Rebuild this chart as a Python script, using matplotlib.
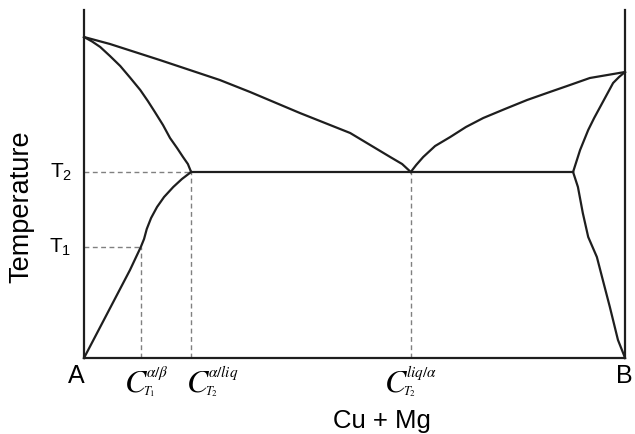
import matplotlib
matplotlib.use("Agg")
import matplotlib.pyplot as plt
from matplotlib.transforms import offset_copy

plt.rcParams['font.family'] = ['Liberation Sans', 'DejaVu Sans']

# composition (0 = A, 100 = B) and temperature (arbitrary units)
liq_left_x = [0, 4.8, 14.0, 25.1, 30.7, 39.9, 49.2, 56.6, 58.8, 60.4]
liq_left_t = [321, 314, 298, 278, 266, 245, 225, 201, 194, 186]
liq_right_x = [60.4, 61.4, 62.7, 64.9, 67.7, 70.6, 73.8, 77.8, 81.9, 86.1, 89.3, 93.5, 100]
liq_right_t = [186, 193, 201, 212, 221, 231, 240, 249, 258, 266, 272, 280, 286]
sol_left_x = [0, 1.5, 3.0, 4.8, 6.7, 8.5, 10.4, 11.8, 13.1, 14.6, 15.9, 17.2, 18.3, 19.2, 19.8]
sol_left_t = [321, 316.5, 311, 302, 292, 280.5, 268, 257, 246, 233, 220, 210, 201, 194, 186]
solv_left_x = [19.8, 18.1, 16.5, 14.8, 13.5, 12.4, 11.6, 11.1, 10.5, 8.5, 0]
solv_left_t = [186, 179, 171, 161, 151, 140, 129, 119, 111, 88, 0]
sol_right_x = [100, 98.9, 97.8, 96.5, 95.4, 94.3, 93.2, 91.7, 90.4]
sol_right_t = [286, 281, 275, 262, 251, 240, 228, 208, 186]
solv_right_x = [90.4, 91.3, 92.2, 93.2, 94.8, 95.9, 97.2, 98.7, 99.8, 100]
solv_right_t = [186, 171, 145, 121, 101, 78, 51, 18, 3, 0]

T1 = 111
T2 = 186
c_ab_T1 = 10.5     # alpha/beta at T1
c_aliq_T2 = 19.8   # alpha/liq at T2
c_liqa_T2 = 60.4   # liq/alpha at T2 (eutectic)
c_b_T2 = 90.4

fig = plt.figure(figsize=(6.35, 4.34), dpi=100)
ax = fig.add_axes([84 / 635, 76 / 434, 541 / 635, 348 / 434])
ax.set_xlim(0, 100)
ax.set_ylim(0, 348)
ax.set_xticks([])
ax.set_yticks([])
ax.spines['top'].set_visible(False)
for s in ['left', 'right', 'bottom']:
    ax.spines[s].set_linewidth(1.6)
    ax.spines[s].set_color('#1e1e1e')

# guide lines
dash = dict(color='#808080', lw=1.0, ls=(0, (3.5, 2.5)), clip_on=False)
ax.plot([0, c_ab_T1], [T1, T1], **dash)
ax.plot([0, c_aliq_T2], [T2, T2], **dash)
ax.plot([c_ab_T1, c_ab_T1], [0, T1], **dash)
ax.plot([c_aliq_T2, c_aliq_T2], [0, T2], **dash)
ax.plot([c_liqa_T2, c_liqa_T2], [0, T2], **dash)

# phase boundaries
line = dict(color='#1e1e1e', lw=1.6, clip_on=False, solid_joinstyle='round')
ax.plot(liq_left_x, liq_left_t, **line)
ax.plot(liq_right_x, liq_right_t, **line)
ax.plot(sol_left_x, sol_left_t, **line)
ax.plot(solv_left_x, solv_left_t, **line)
ax.plot(sol_right_x, sol_right_t, **line)
ax.plot(solv_right_x, solv_right_t, **line)
ax.plot([c_aliq_T2, c_b_T2], [T2, T2], **line)

# labels
ax.text(-1.5, -18, 'A', fontsize=18, ha='center', va='center')
ax.text(99.8, -18, 'B', fontsize=18, ha='center', va='center')
ax.text(55.1, -70, 'Cu + Mg', fontsize=18.5, ha='center', va='baseline')
ax.text(-11.5, 151, 'Temperature', fontsize=19.5, rotation=90,
        ha='center', va='center')
ax.text(-2.2, T2, r'T$_\mathregular{2}$', fontsize=15, ha='right', va='center')
ax.text(-2.4, T1, r'T$_\mathregular{1}$', fontsize=15, ha='right', va='center')

serif = dict(family='STIXGeneral', style='italic', va='baseline', ha='left')
c_labels = [(7.6, r'$\alpha/\beta$', '1'),
            (19.0, r'$\alpha/liq$', '2'),
            (55.6, r'$liq/\alpha$', '2')]
for x0, sup, sub in c_labels:
    ax.text(x0, -34, 'C', fontsize=23, **serif)
    ax.text(x0, -34, sup, fontsize=11, math_fontfamily='stix',
            transform=offset_copy(ax.transData, fig, x=21, y=15, units='dots'),
            **serif)
    ax.text(x0, -34, r'$T_{' + sub + '}$', fontsize=9, math_fontfamily='stix',
            transform=offset_copy(ax.transData, fig, x=18, y=-3, units='dots'),
            **serif)

fig.savefig('out.png', dpi=100)
